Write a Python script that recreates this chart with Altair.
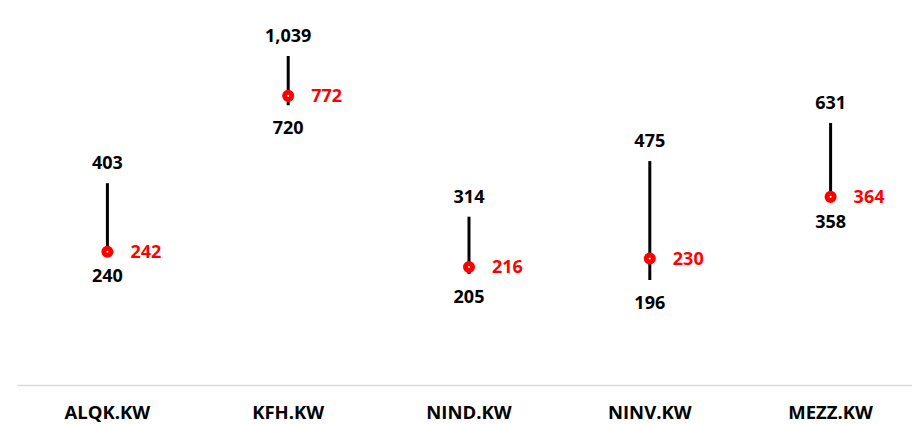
import altair as alt
import pandas as pd

tickers = ["ALQK.KW", "KFH.KW", "NIND.KW", "NINV.KW", "MEZZ.KW"]
high = [403, 1039, 314, 475, 631]
low = [240, 720, 205, 196, 358]
current = [242, 772, 216, 230, 364]

df = pd.DataFrame({"ticker": tickers, "high": high, "low": low, "current": current})

FONT = "Open Sans"
FS = 18

x = alt.X("ticker:N", sort=tickers, title=None,
          scale=alt.Scale(range=[1, 905], paddingInner=0, paddingOuter=0),
          axis=alt.Axis(labelAngle=0, labelFont=FONT, labelFontSize=18.5, labelFontWeight="bold",
                        labelColor="#000000", ticks=False, labelPadding=27,
                        domainColor="#d9d9d9", domainWidth=1.5, labelBaseline="middle"))
yscale = alt.Scale(type="log", domain=[89.7, 1485], nice=False, zero=False)

base = alt.Chart(df)

rule = base.mark_rule(color="#000000", strokeWidth=3).encode(
    x=x,
    y=alt.Y("low:Q", scale=yscale, axis=None),
    y2="high:Q",
)

pts = base.mark_point(shape="circle", filled=False, fill="#ffffff", fillOpacity=1,
                      stroke="#ff0000", strokeWidth=5, size=50, opacity=1).encode(
    x=x, y=alt.Y("current:Q", scale=yscale, axis=None)
)

txt_high = base.mark_text(font=FONT, fontSize=FS, fontWeight="bold", color="#000000",
                          baseline="middle", dy=-19).encode(
    x=x, y=alt.Y("high:Q", scale=yscale, axis=None), text=alt.Text("high:Q", format=",")
)

txt_low = base.mark_text(font=FONT, fontSize=FS, fontWeight="bold", color="#000000",
                         baseline="middle", dy=24).encode(
    x=x, y=alt.Y("low:Q", scale=yscale, axis=None), text=alt.Text("low:Q", format=",")
)

txt_cur = base.mark_text(font=FONT, fontSize=FS, fontWeight="bold", color="#ff0000",
                         baseline="middle", align="left", dx=23, dy=1.5).encode(
    x=x, y=alt.Y("current:Q", scale=yscale, axis=None), text=alt.Text("current:Q", format=",")
)

chart = alt.layer(rule, pts, txt_high, txt_low, txt_cur).properties(
    width=896, height=377,
    background="#ffffff",
    autosize=alt.AutoSizeParams(type="none"),
    padding={"left": 8, "right": 0, "top": 0, "bottom": 39},
).configure_view(strokeWidth=0, stroke="transparent")

chart.save("out.html", embed_options={"renderer": "svg", "actions": False})
